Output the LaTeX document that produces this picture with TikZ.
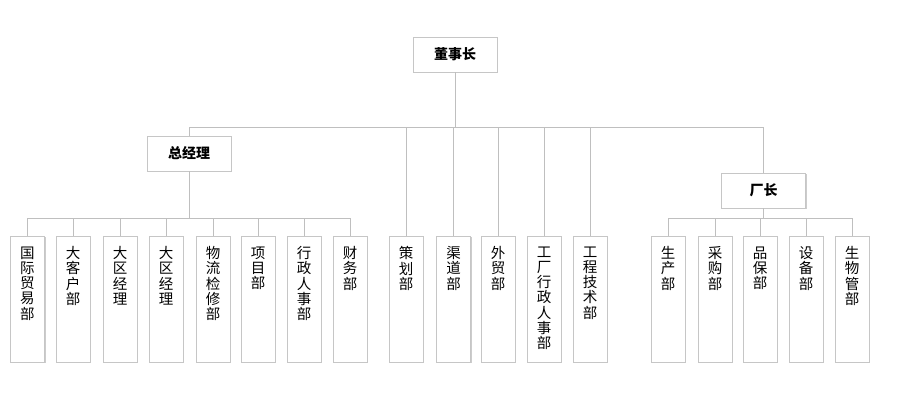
\documentclass[tikz,border=0pt]{standalone}
\usepackage{fontspec}
\setmainfont{Noto Sans CJK SC}
\usetikzlibrary{shadows}

\tikzset{
  boxline/.style={draw=gray!45, fill=white, inner sep=0pt,
    drop shadow={shadow xshift=1.2pt, shadow yshift=-1.2pt, fill=black, opacity=0.2}},
  lead/.style={boxline, minimum width=84pt, minimum height=35pt,
    font=\bfseries\fontsize{14}{16}\selectfont},
  dept/.style={boxline, minimum width=34pt, minimum height=126pt},
  wire/.style={draw=gray!50, line width=0.8pt}
}
\newcommand{\vlabel}[1]{\parbox[c][105pt][t]{18pt}{\centering\fontsize{14.5}{15.3}\selectfont #1}}

\begin{document}
\begin{tikzpicture}[x=1pt,y=-1pt]
  \fill[white] (0,0) rectangle (908,413);
  \useasboundingbox (0,0) rectangle (908,413);

  % top level
  \node[lead] (dsz) at (455,54.5) {董事长};
  \node[lead] (zjl) at (189,153.5) {总经理};
  \node[lead] (cz) at (763.5,190.5) {厂长};

  \coordinate (bus1) at (dsz.south |- 0,127);
  \coordinate (bus2) at (zjl.south |- 0,218);
  \coordinate (bus3) at (cz.south |- 0,218);

  \draw[wire] (dsz.south) -- (bus1);
  \draw[wire] (bus1) -| (zjl.north);
  \draw[wire] (bus1) -| (cz.north);
  \draw[wire] (zjl.south) -- (bus2);
  \draw[wire] (cz.south) -- (bus3);

  % under the general manager
  \foreach \x/\n/\t in {27.5/gjmy/{国\\际\\贸\\易\\部}, 73/dkh/{大\\客\\户\\部},
      120/dqa/{大\\区\\经\\理}, 166/dqb/{大\\区\\经\\理}, 213/wljx/{物\\流\\检\\修\\部},
      258/xm/{项\\目\\部}, 304/xzrs/{行\\政\\人\\事\\部}, 350/cw/{财\\务\\部}}{
    \node[dept] (\n) at (\x,299) {\vlabel{\t}};
    \draw[wire] (bus2) -| (\n.north);
  }

  % straight under the chairman
  \foreach \x/\n/\t in {406/ch/{策\\划\\部}, 453.5/qd/{渠\\道\\部}, 498/wm/{外\\贸\\部},
      544/gcxz/{工\\厂\\行\\政\\人\\事\\部}, 590/gcjs/{工\\程\\技\\术\\部}}{
    \node[dept] (\n) at (\x,299) {\vlabel{\t}};
    \draw[wire] (bus1) -| (\n.north);
  }

  % under the factory manager
  \foreach \x/\n/\t in {668/sc/{生\\产\\部}, 715/cg/{采\\购\\部}, 760/pb/{品\\保\\部},
      806/sb/{设\\备\\部}, 852/swg/{生\\物\\管\\部}}{
    \node[dept] (\n) at (\x,299) {\vlabel{\t}};
    \draw[wire] (bus3) -| (\n.north);
  }
\end{tikzpicture}
\end{document}
